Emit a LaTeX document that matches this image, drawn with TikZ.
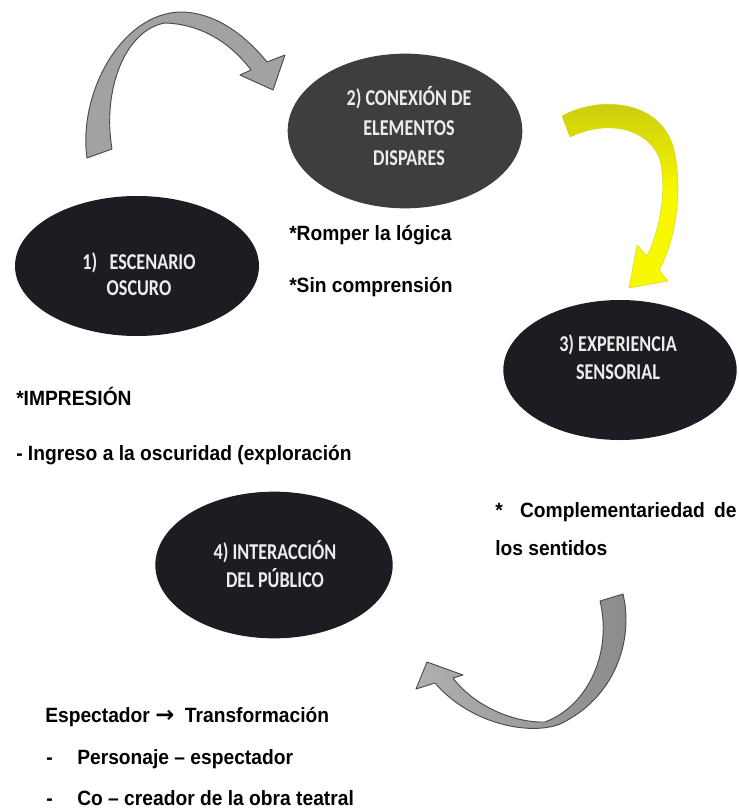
\documentclass[tikz,border=0pt]{standalone}
\usepackage{fontspec}
\setmainfont{Liberation Sans}[FakeStretch=0.93]
\newfontfamily\ovalfont{Carlito}[FakeStretch=0.8]
\newfontfamily\symfont{DejaVu Sans}
\usetikzlibrary{shapes.geometric}

\definecolor{ovaldark}{HTML}{1C1C22}
\definecolor{ovalgray}{HTML}{3E3E3E}
\definecolor{ovaltext}{HTML}{EDEDED}
\definecolor{arrowgray}{HTML}{A2A2A2}
\definecolor{arrowback}{HTML}{8A8A8A}
\definecolor{arrowline}{HTML}{4A4A4A}
\definecolor{yellowback}{HTML}{C8C810}
\definecolor{yellowfront}{HTML}{F8F800}

\tikzset{
  oval/.style={ellipse, fill=ovaldark, draw=none, inner sep=0pt},
  ovaltxt/.style={text=ovaltext, align=center, inner sep=0pt,
    font=\ovalfont\bfseries\fontsize{17}{22.5}\selectfont},
  note/.style={anchor=base west, inner sep=0pt,
    font=\bfseries\fontsize{15.5}{18}\selectfont},
  bandarrow/.style={draw=arrowline, line width=0.7pt, line join=round}
}

\begin{document}
\begin{tikzpicture}[x=0.75pt, y=-0.75pt]
   \useasboundingbox (0, 0) rectangle (738, 812);

   % curved arrows
   \filldraw [bandarrow, fill=arrowgray] (87, 158) .. controls (78, 95) and (120, 14) .. (180, 12)
      .. controls (215, 12) and (245, 35) .. (267, 62) -- (285, 55) -- (273, 90) -- (240, 75) -- (251, 70)
      .. controls (230, 42) and (200, 24) .. (165, 23) .. controls (125, 30) and (102, 90) .. (112, 149) -- cycle;
   \path [draw=yellowfront!85!black, line width=0.3pt, top color=yellowback, bottom color=yellowfront, middle color=yellowfront]
      (562, 116) .. controls (600, 95) and (662, 100) .. (674, 150)
      .. controls (683, 190) and (676, 240) .. (659, 270) -- (668, 281) -- (629, 288) -- (637, 245) -- (647, 256)
      .. controls (660, 230) and (667, 190) .. (660, 160) .. controls (650, 130) and (610, 118) .. (570, 137) -- cycle;
   \path [bandarrow, left color=arrowgray!85!white, right color=arrowback]
      (623, 594) .. controls (634, 640) and (615, 698) .. (560, 724)
      .. controls (530, 736) and (470, 724) .. (435, 683) -- (416, 689) -- (427, 662) -- (463, 675) -- (453, 678)
      .. controls (475, 707) and (515, 723) .. (545, 722) .. controls (590, 705) and (612, 650) .. (600, 601) -- cycle;

   % stages
   \node [oval, minimum width=183pt, minimum height=105pt] (escenario) at (137, 266) {};
   \node [ovaltxt, font=\ovalfont\bfseries\fontsize{17}{19.5}\selectfont] (escenariotxt) at (139, 274) {1)\ \ \ ESCENARIO\\OSCURO};
   \node [oval, fill=ovalgray, minimum width=176pt, minimum height=116pt] (conexion) at (405, 131) {};
   \node [ovaltxt] (conexiontxt) at (409, 126) {2) CONEXIÓN DE\\ELEMENTOS\\DISPARES};
   \node [oval, minimum width=175pt, minimum height=105pt] (experiencia) at (620, 370) {};
   \node [ovaltxt, font=\ovalfont\bfseries\fontsize{17}{21}\selectfont] (experienciatxt) at (618, 357) {3) EXPERIENCIA\\SENSORIAL};
   \node [oval, minimum width=178pt, minimum height=110pt] (interaccion) at (274, 565) {};
   \node [ovaltxt, font=\ovalfont\bfseries\fontsize{17}{21}\selectfont] (interacciontxt) at (275, 564) {4) INTERACCIÓN\\DEL PÚBLICO};

   % notes
   \node [note] (romper) at (289, 241) {*Romper la lógica};
   \node [note] (sincomp) at (289, 293) {*Sin comprensión};
   \node [note] (impresion) at (16, 405) {*IMPRESIÓN};
   \node [note] (ingreso) at (16, 460) {- Ingreso a la oscuridad (exploración};
   \node [note] (complem) at (495, 517) {\makebox[181pt][l]{*\hspace{13pt}Complementariedad\hfill de}};
   \node [note] (sentidos) at (495, 555) {los sentidos};
   \node [note] (espectador) at (45, 722) {Espectador {\symfont\bfseries\fontsize{17}{18}\selectfont →}\ \ Transformación};
   \node [note] (guion1) at (46, 764) {-};
   \node [note] (personaje) at (77, 764) {Personaje – espectador};
   \node [note] (guion2) at (46, 805) {-};
   \node [note] (cocreador) at (77, 805) {Co – creador de la obra teatral};
\end{tikzpicture}
\end{document}
